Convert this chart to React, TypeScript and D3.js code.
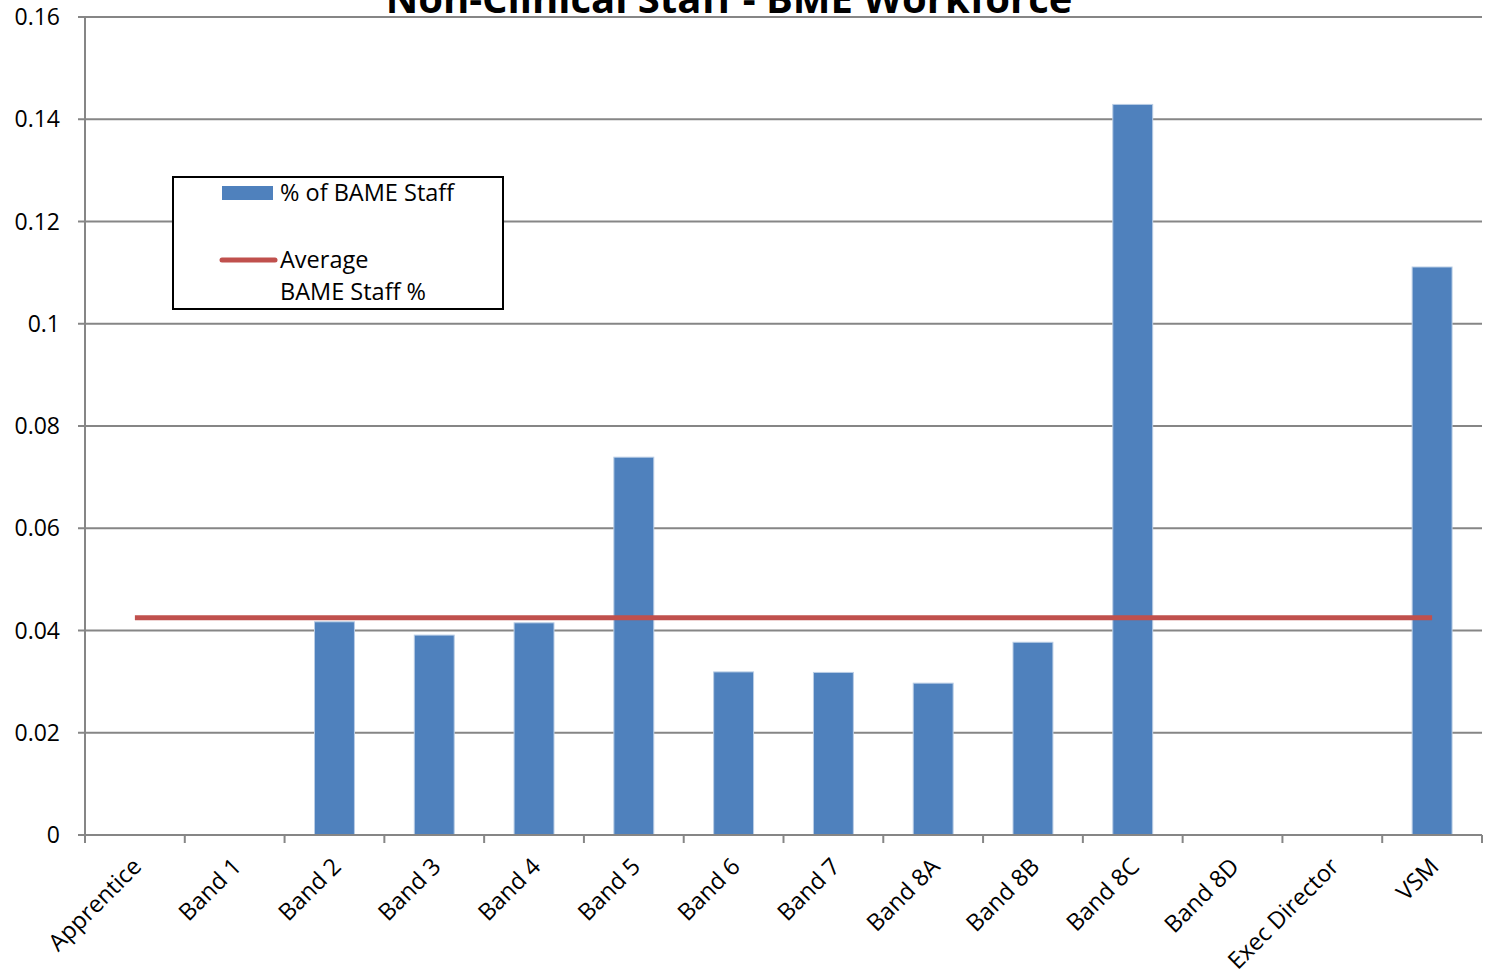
import React from "react";
import * as d3 from "d3";

const categories = [
  "Apprentice", "Band 1", "Band 2", "Band 3", "Band 4", "Band 5", "Band 6",
  "Band 7", "Band 8A", "Band 8B", "Band 8C", "Band 8D", "Exec Director", "VSM",
];
const bameShare = [
  0, 0, 0.0417, 0.0391, 0.0415, 0.0739, 0.0319,
  0.0318, 0.0297, 0.0377, 0.1429, 0, 0, 0.1111,
];
const averageShare = 0.0425;
const yTicks = [0, 0.02, 0.04, 0.06, 0.08, 0.1, 0.12, 0.14, 0.16];
const yTickLabels = ["0", "0.02", "0.04", "0.06", "0.08", "0.1", "0.12", "0.14", "0.16"];

const W = 1488;
const H = 979;
const left = 85;
const right = 1482;
const top = 17;
const bottom = 835;
const font = "'Open Sans', 'Noto Sans', sans-serif";
const gridColor = "#868686";

export default function App() {
  const x = d3.scaleBand<string>().domain(categories).range([left, right]).paddingInner(0.6).paddingOuter(0.3);
  const xb = d3.scaleBand<string>().domain(categories).range([left, right]);
  const y = d3.scaleLinear().domain([0, 0.16]).range([bottom, top]);
  const cx = (c: string) => (xb(c) as number) + xb.bandwidth() / 2;

  const avgLine = d3.line<string>().x((c) => cx(c)).y(() => y(averageShare));

  return (
    <svg width={W} height={H} style={{ position: "absolute", left: 0, top: 0, background: "#fff" }}>
      <text x={729} y={13} textAnchor="middle" fontFamily={font} fontWeight="bold" fontSize={40} fill="#000">
        Non-Clinical Staff - BME Workforce
      </text>
      {/* horizontal gridlines */}
      {yTicks.map((t) => (
        <line key={"g" + t} x1={left} x2={right} y1={y(t)} y2={y(t)} stroke={gridColor} strokeWidth={2} />
      ))}
      {/* y axis */}
      <line x1={left} x2={left} y1={top} y2={bottom} stroke={gridColor} strokeWidth={2} />
      {yTicks.map((t, i) => (
        <g key={"yt" + t}>
          <line x1={left - 7} x2={left} y1={y(t)} y2={y(t)} stroke={gridColor} strokeWidth={2} />
          <text x={60} y={y(t) + 8} textAnchor="end" fontFamily={font} fontSize={23} fill="#000">
            {yTickLabels[i]}
          </text>
        </g>
      ))}
      {/* bars */}
      {categories.map((c, i) =>
        bameShare[i] > 0 ? (
          <rect key={"b" + c} x={x(c)} y={y(bameShare[i])} width={x.bandwidth()} height={y(0) - y(bameShare[i])}
            fill="#4F81BD" stroke="#B9CDE5" strokeWidth={1} />
        ) : null
      )}
      {/* x axis */}
      <line x1={left} x2={right} y1={bottom} y2={bottom} stroke={gridColor} strokeWidth={2} />
      {categories.map((c) => (
        <line key={"xt" + c} x1={xb(c)} x2={xb(c)} y1={bottom} y2={bottom + 8} stroke={gridColor} strokeWidth={2} />
      ))}
      <line x1={right} x2={right} y1={bottom} y2={bottom + 8} stroke={gridColor} strokeWidth={2} />
      {categories.map((c) => (
        <text key={"xl" + c} transform={`translate(${cx(c) + 8},${bottom + 33}) rotate(-45)`} textAnchor="end"
          fontFamily={font} fontSize={23.5} fill="#000">
          {c}
        </text>
      ))}
      {/* average line */}
      <path d={avgLine(categories) as string} fill="none" stroke="#C0504D" strokeWidth={5} />
      {/* legend */}
      <rect x={173} y={177} width={330} height={132} fill="#fff" stroke="#000" strokeWidth={2} />
      <rect x={222} y={186} width={51} height={14} fill="#4F81BD" />
      <text x={280} y={201} fontFamily={font} fontSize={23.5} fill="#000">% of BAME Staff</text>
      <line x1={222} x2={275} y1={260} y2={260} stroke="#C0504D" strokeWidth={5} strokeLinecap="round" />
      <text x={280} y={268} fontFamily={font} fontSize={23.5} fill="#000">Average</text>
      <text x={280} y={300} fontFamily={font} fontSize={23.5} fill="#000">BAME Staff %</text>
    </svg>
  );
}
